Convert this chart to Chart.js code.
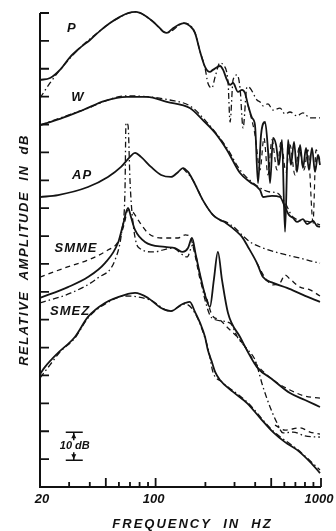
<!DOCTYPE html>
<html>
<head>
<meta charset="utf-8">
<script src="https://cdn.jsdelivr.net/npm/chart.js@4.4.1/dist/chart.umd.min.js"></script>
<style>
body { margin: 0; background: #fff; }
canvas { display: block; }
</style>
</head>
<body>
<canvas id="responseChart" width="336" height="531"></canvas>
<script>
// Frequencies in Hz, amplitudes in dB (relative, curves are offset vertically)

// P
var pFreq = [20, 23, 26.4, 30.4, 34.9, 40.1, 46.1, 53, 60.9, 68.1, 76.1, 85.1, 95.1, 106, 112, 117, 126, 137, 148.5, 161, 173, 186, 199, 213, 222, 245, 256, 270, 282, 294, 315, 333, 347, 362, 383, 399, 416, 434, 459, 478, 492, 513, 535, 557, 581, 606, 632, 658, 687, 716, 747, 778, 812, 846, 882, 920, 959, 986];
var pSolid = [146.0, 146.7, 149.6, 154.2, 157.5, 160.3, 163.6, 166.4, 168.6, 170.0, 170.4, 169.3, 167.2, 164.6, 163.2, 162.9, 164.3, 165.7, 166.4, 165.4, 162.9, 156.0, 150.7, 148.9, 149.6, 151.0, 149.6, 146.0, 144.2, 144.9, 141.7, 142.4, 141.3, 137.0, 132.4, 129.8, 109.0, 126.3, 130.9, 120.9, 109.0, 125.2, 122.7, 115.5, 124.5, 91.5, 124.5, 115.5, 123.8, 113.0, 122.7, 114.4, 121.6, 113.7, 121.6, 113.0, 119.1, 115.5];
var pdFreq = [20, 23, 26.4, 34.9, 46.1, 60.9, 76.1, 95.1, 117, 148.5, 173, 186, 199, 207, 219, 229, 245, 256, 274, 282, 294, 311, 324, 338, 357, 372, 410, 428, 446, 478, 513, 565, 606, 649, 716, 778, 858, 986];
var pDashDot = [139.5, 144.9, 149.6, 157.5, 163.6, 168.6, 170.4, 167.2, 162.9, 166.4, 162.9, 156.0, 150.3, 144.9, 143.1, 147.1, 152.1, 151.4, 145.3, 130.9, 146.0, 147.8, 143.1, 128.8, 143.5, 143.1, 138.8, 138.1, 136.7, 137.4, 135.2, 135.9, 133.8, 134.5, 133.1, 134.2, 132.4, 132.4];
var pdsFreq = [362, 399, 428, 452, 478, 505, 542, 573, 614, 649, 696, 736, 789, 834, 895, 933, 986];
var pDashed = [137.0, 126.3, 113.7, 125.2, 111.9, 124.5, 113.7, 123.8, 113.0, 122.7, 111.9, 121.6, 113.7, 120.9, 95.1, 120.9, 117.3];

// W
var wFreq = [20, 26.4, 36.4, 49.4, 67.1, 88.7, 117, 161, 193, 229, 270, 324, 372, 428, 446, 505, 565, 606, 640, 677, 716, 778, 823, 895, 946, 986];
var wSolid = [129.8, 132.0, 135.2, 138.5, 139.9, 139.9, 138.1, 135.9, 131.6, 127.0, 120.9, 112.6, 109.4, 106.5, 104.0, 104.4, 104.0, 100.4, 97.6, 96.5, 95.1, 96.1, 94.3, 95.4, 93.6, 93.3];
var wdFreq = [20, 36.4, 67.1, 92.5, 122, 161, 199, 270, 324, 428, 492, 542, 606, 677, 858, 986];
var wDashDot = [129.8, 135.2, 140.3, 139.9, 138.8, 136.7, 131.6, 121.6, 113.7, 107.3, 105.8, 105.5, 101.9, 96.8, 95.1, 94.0];

// AP
var apFreq = [20, 25.7, 39, 51.5, 61.8, 70, 75.1, 81.6, 93.8, 108, 124, 137, 146, 157, 168, 193, 222, 245, 266, 311, 333, 362, 410, 446, 513, 623, 778, 986];
var apSolid = [104.0, 104.7, 107.6, 111.2, 114.8, 118.4, 119.8, 118.4, 114.8, 111.9, 111.2, 113.0, 114.4, 113.0, 110.1, 102.9, 97.6, 95.8, 94.7, 91.5, 89.7, 86.1, 80.3, 75.3, 73.2, 71.4, 68.9, 66.4];
var apdFreq = [146, 168, 193, 222, 245, 266, 302, 338, 372, 446, 527, 623, 747, 858, 986];
var apDashDot = [114.4, 110.1, 102.9, 97.6, 95.8, 95.1, 92.9, 90.0, 87.9, 85.7, 84.3, 83.2, 82.1, 81.1, 80.3];
var apdsFreq = [410, 459, 513, 565, 606, 649, 747, 858, 986];
var apDashed = [80.3, 75.0, 72.5, 73.2, 76.0, 74.6, 71.7, 70.7, 68.5];

// SMME
var smmeFreq = [20, 29.5, 39, 49.4, 59.2, 63.5, 68.1, 71, 75.1, 86.3, 114, 131, 146, 157, 166, 175, 186, 199, 213, 225, 238, 252, 274, 324, 410, 513, 649, 800, 986];
var smmeSolid = [67.8, 71.7, 75.3, 80.3, 87.5, 94.0, 100.1, 96.8, 92.2, 87.9, 86.1, 85.7, 84.3, 85.7, 89.3, 83.2, 76.0, 68.9, 64.6, 74.3, 84.3, 74.3, 62.4, 53.8, 43.0, 38.4, 33.7, 31.2, 28.7];
var smmedFreq = [20, 28.3, 39, 51.5, 59.2, 64.4, 68.1, 73, 78.3, 90, 108, 137, 151, 161, 173, 186, 205, 219, 245, 270, 324, 410, 513, 649, 800, 986];
var smmeDashed = [75.3, 78.6, 81.4, 85.0, 87.9, 94.0, 99.4, 98.6, 95.8, 91.1, 89.3, 89.3, 90.4, 90.0, 83.2, 74.3, 67.1, 61.7, 59.9, 57.4, 52.7, 43.8, 38.4, 34.8, 32.6, 31.9];
var smmeddFreq = [20, 30.8, 44.8, 56.8, 62.6, 65.3, 66.2, 68.1, 70, 72, 78.3, 96.5, 127, 155, 168, 180, 199, 219, 282, 315, 362, 399, 446, 492, 542, 589, 677, 800, 986];
var smmeDashDot = [66.0, 69.6, 75.0, 81.4, 92.2, 106.5, 130.6, 129.8, 110.1, 98.3, 86.1, 84.3, 85.7, 82.5, 86.8, 79.6, 67.1, 60.6, 58.8, 53.4, 49.1, 45.6, 35.9, 28.7, 23.0, 19.4, 19.7, 18.3, 17.9];
var lowFreq = [527, 606, 747, 858, 986];
var lowDashed = [22.2, 20.4, 21.2, 19.7, 19.0];

// SMEZ
var smezFreq = [20, 21.4, 25.7, 32.5, 39, 49.4, 65.3, 75.1, 90, 108, 124, 142, 151, 161, 173, 186, 199, 207, 219, 229, 245, 294, 357, 428, 513, 606, 716, 858, 986];
var smezSolid = [40.5, 43.0, 48.1, 53.8, 61.0, 66.0, 68.9, 69.6, 67.8, 64.2, 63.1, 65.3, 66.0, 66.4, 62.8, 58.8, 53.8, 49.1, 44.8, 41.3, 38.4, 34.1, 30.1, 24.8, 19.7, 16.1, 13.3, 9.0, 5.0];
var smezdFreq = [20, 23, 26.4, 32.5, 39, 49.4, 65.3, 92.5, 122, 151, 173, 199, 210, 222, 252, 357, 513, 716, 986];
var smezDashDot = [39.1, 43.8, 48.4, 53.4, 60.6, 65.6, 68.5, 67.1, 63.1, 65.6, 62.4, 53.4, 48.4, 41.3, 37.7, 30.5, 20.1, 13.6, 6.1];

// axes
var yTicks = [0, 10, 20, 30, 40, 50, 60, 70, 80, 90, 100, 110, 120, 130, 140, 150, 160, 170];
var xMinorTicks = [30, 40, 60, 70, 80, 90, 200, 300, 400, 600, 700, 800, 900];
var xMidTicks = [50, 500];
var xMajorTicks = [100, 1000];
var xTickLabels = ['20', '100', '1000'];
var xTickValues = [20, 100, 1000];

// curve names, placed at (Hz, dB)
var curveNames = ['P', 'W', 'AP', 'SMME', 'SMEZ'];
var nameFreq = [31.2, 33.9, 35.9, 33.0, 30.4];
var nameDb = [164.3, 139.9, 111.6, 85.7, 62.8];

// 10 dB scale bar
var barFreq = 32;
var barDb = [9.6, 19.6];

var DASHDOT = [6, 3, 1.5, 3];
var DASHED = [5, 4];

function pts(f, v) {
    return f.map(function (x, i) { return { x: x, y: v[i] }; });
}

function line(f, v, dash, width) {
    return {
        data: pts(f, v),
        borderColor: '#141414',
        borderWidth: width || 1.8,
        borderDash: dash || [],
        pointRadius: 0,
        cubicInterpolationMode: 'monotone',
        fill: false,
        clip: false
    };
}

var frame = {
    id: 'frame',
    afterDatasetsDraw: function (chart) {
        var ctx = chart.ctx;
        var xs = chart.scales.x, ys = chart.scales.y;
        var left = xs.getPixelForValue(20), right = xs.getPixelForValue(1000);
        var top = ys.getPixelForValue(170), bottom = ys.getPixelForValue(0);
        ctx.save();
        ctx.strokeStyle = '#111';
        ctx.fillStyle = '#111';
        ctx.lineWidth = 2;
        ctx.beginPath();
        ctx.moveTo(left, top);
        ctx.lineTo(left, bottom);
        ctx.lineTo(right, bottom);
        ctx.stroke();

        // ticks point into the plot
        ctx.lineWidth = 1.8;
        ctx.beginPath();
        yTicks.forEach(function (v) {
            var y = ys.getPixelForValue(v);
            ctx.moveTo(left, y);
            ctx.lineTo(left + 9, y);
        });
        xMinorTicks.forEach(function (v) {
            var x = xs.getPixelForValue(v);
            ctx.moveTo(x, bottom);
            ctx.lineTo(x, bottom - 5);
        });
        xMidTicks.concat(xMajorTicks).forEach(function (v) {
            var x = xs.getPixelForValue(v);
            ctx.moveTo(x, bottom);
            ctx.lineTo(x, bottom - 9);
        });
        ctx.stroke();

        ctx.textAlign = 'center';
        ctx.textBaseline = 'middle';
        ctx.font = 'bold italic 13px "Liberation Sans"';
        xTickValues.forEach(function (v, i) {
            ctx.fillText(xTickLabels[i], xs.getPixelForValue(v) + (i === 0 ? 2 : -2), bottom + 12);
        });

        ctx.letterSpacing = '2px';
        ctx.fillText('FREQUENCY  IN  HZ', (left + right) / 2 + 12, bottom + 37);
        ctx.save();
        ctx.translate(left - 16, (top + bottom) / 2);
        ctx.rotate(-Math.PI / 2);
        ctx.letterSpacing = '1.5px';
        ctx.fillText('RELATIVE  AMPLITUDE  IN  dB', 0, 0);
        ctx.restore();

        ctx.letterSpacing = '1px';
        ctx.font = 'bold italic 13px "Liberation Sans"';
        curveNames.forEach(function (n, i) {
            ctx.fillText(n, xs.getPixelForValue(nameFreq[i]), ys.getPixelForValue(nameDb[i]));
        });

        // scale bar
        var bx = xs.getPixelForValue(barFreq);
        var y1 = ys.getPixelForValue(barDb[1]), y0 = ys.getPixelForValue(barDb[0]);
        ctx.lineWidth = 1.5;
        ctx.beginPath();
        ctx.moveTo(bx - 8, y1); ctx.lineTo(bx + 9, y1);
        ctx.moveTo(bx - 8, y0); ctx.lineTo(bx + 9, y0);
        ctx.moveTo(bx, y1); ctx.lineTo(bx, y1 + 8);
        ctx.moveTo(bx, y0); ctx.lineTo(bx, y0 - 8);
        ctx.stroke();
        ctx.beginPath();
        ctx.moveTo(bx, y1 + 1); ctx.lineTo(bx - 2.5, y1 + 6); ctx.lineTo(bx + 2.5, y1 + 6);
        ctx.moveTo(bx, y0 - 1); ctx.lineTo(bx - 2.5, y0 - 6); ctx.lineTo(bx + 2.5, y0 - 6);
        ctx.fill();
        ctx.letterSpacing = '0px';
        ctx.font = 'bold italic 11px "Liberation Sans"';
        ctx.fillText('10 dB', bx + 1, (y0 + y1) / 2);
        ctx.restore();
    }
};

var ctx1 = document.getElementById('responseChart').getContext('2d');
var responseChart = new Chart(ctx1, {
    type: 'line',
    data: {
        datasets: [
            line(pFreq, pSolid),
            line(pdFreq, pDashDot, DASHDOT, 1.3),
            line(pdsFreq, pDashed, DASHED, 1.2),
            line(wFreq, wSolid),
            line(wdFreq, wDashDot, DASHDOT, 1.3),
            line(apFreq, apSolid),
            line(apdFreq, apDashDot, DASHDOT, 1.3),
            line(apdsFreq, apDashed, DASHED, 1.3),
            line(smmeFreq, smmeSolid),
            line(smmedFreq, smmeDashed, DASHED, 1.3),
            line(smmeddFreq, smmeDashDot, DASHDOT, 1.3),
            line(lowFreq, lowDashed, DASHED, 1.3),
            line(smezFreq, smezSolid),
            line(smezdFreq, smezDashDot, DASHDOT, 1.3)
        ]
    },
    options: {
        responsive: false,
        animation: false,
        devicePixelRatio: 1,
        layout: { padding: { left: 40, right: 15, top: 13, bottom: 44 } },
        plugins: { legend: { display: false }, tooltip: { enabled: false } },
        scales: {
            x: { type: 'logarithmic', min: 20, max: 1000, display: false },
            y: { type: 'linear', min: 0, max: 170, display: false }
        }
    },
    plugins: [frame]
});
</script>
</body>
</html>
